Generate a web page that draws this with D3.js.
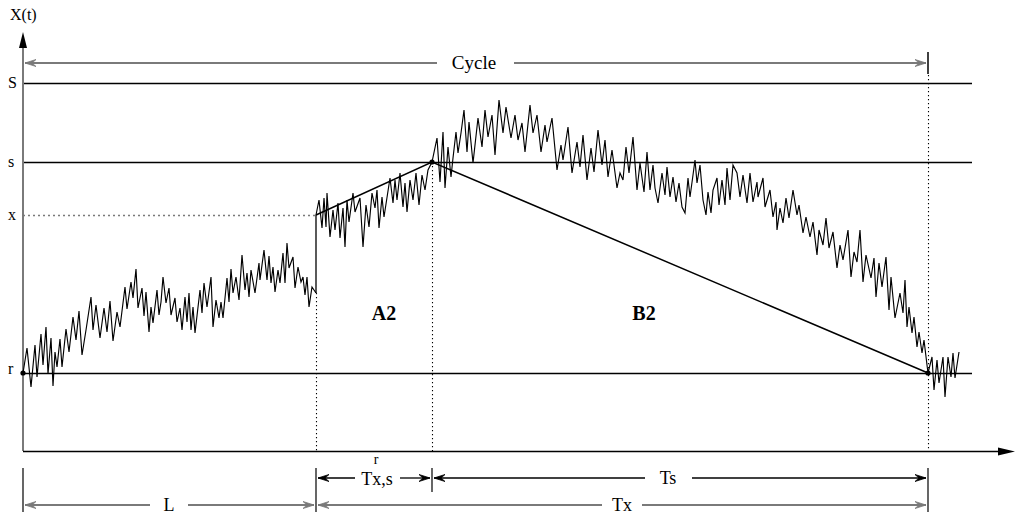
<!DOCTYPE html>
<html>
<head>
<meta charset="utf-8">
<script src="https://cdn.jsdelivr.net/npm/d3@7"></script>
<style>
  body { margin: 0; background: #fff; }
  svg text { font-family: "Liberation Serif", "Times New Roman", serif; fill: #000; }
</style>
</head>
<body>
<svg id="chart"></svg>
<script>
const width = 1022;
const height = 514;

// levels on the X(t) axis
const levelNames = ["S", "s", "x", "r"];
const levelValues = [368, 289, 236, 78];

// times on the t axis
const tL = 293;      // end of L
const tS = 409;      // hitting time of s
const tCycle = 905;  // end of the cycle
const tEnd = 949;    // right end of the level lines

// sample path, [t, X(t)]
const pathBeforeJump = [
  [0,78],[4,103],[8,64],[12,106],[14,74],[18,117],[20,86],[23,124],[25,77],[28,113],
  [30,65],[32,99],[34,84],[37,112],[39,84],[43,122],[46,99],[50,134],[53,111],[56,140],
  [59,96],[63,121],[68,154],[70,121],[73,146],[77,113],[81,143],[84,119],[87,150],[90,110],
  [94,139],[97,124],[102,164],[104,142],[108,169],[110,153],[113,182],[115,143],[119,163],[121,135],
  [123,159],[126,119],[128,144],[130,128],[134,161],[136,136],[138,149],[140,174],[143,148],[146,163],
  [148,136],[152,153],[154,129],[157,143],[159,121],[162,154],[164,129],[166,158],[168,121],[170,144],
  [172,118],[177,161],[179,138],[181,168],[184,144],[188,174],[190,124],[193,151],[196,133],[198,149],
  [200,133],[204,173],[206,149],[208,182],[210,158],[213,174],[216,151],[219,196],[222,161],[224,178],
  [226,154],[228,181],[232,158],[236,188],[237,171],[241,201],[244,171],[246,195],[248,168],[250,184],
  [252,159],[255,181],[257,168],[260,198],[262,168],[264,208],[266,183],[270,194],[272,163],[275,184],
  [278,169],[280,174],[282,156],[284,174],[286,144],[289,164],[293,158]
];
const pathToS = [
  [293,236],[296,251],[299,223],[301,253],[303,224],[304,258],[307,214],[310,241],[312,221],[315,248],
  [317,213],[320,243],[322,204],[324,251],[326,229],[330,258],[332,239],[337,253],[340,204],[343,246],
  [346,224],[349,258],[352,243],[354,261],[356,223],[359,254],[361,234],[367,273],[370,248],[372,271],
  [374,251],[377,278],[380,244],[382,268],[384,239],[387,271],[390,251],[393,278],[396,246],[399,276],
  [402,261],[405,281],[409,289]
];
const pathToR = [
  [414,313],[417,269],[420,319],[422,263],[425,304],[428,274],[430,293],[433,319],[435,298],[438,318],
  [441,341],[444,299],[446,329],[450,288],[455,333],[459,304],[462,341],[465,314],[469,336],[472,296],
  [476,351],[480,318],[483,344],[488,313],[492,336],[495,311],[499,328],[502,299],[507,346],[510,318],
  [514,336],[518,299],[522,326],[524,309],[529,333],[534,281],[538,306],[540,291],[545,324],[549,278],
  [554,309],[557,284],[560,316],[564,271],[568,303],[571,279],[575,321],[579,286],[582,311],[585,274],
  [589,301],[591,286],[594,263],[597,278],[600,271],[603,304],[606,278],[610,314],[614,261],[617,288],
  [621,259],[624,299],[627,261],[630,286],[632,263],[635,248],[639,278],[642,256],[644,284],[647,254],
  [650,274],[653,249],[656,268],[659,244],[662,238],[665,273],[667,254],[670,276],[672,291],[674,268],
  [677,286],[680,251],[683,236],[685,259],[688,238],[690,261],[694,273],[696,246],[699,271],[702,246],
  [704,283],[707,251],[710,286],[714,278],[717,254],[720,276],[724,248],[727,278],[730,249],[734,269],
  [735,254],[740,273],[742,244],[747,261],[750,234],[753,249],[754,221],[757,243],[760,228],[763,253],
  [766,233],[770,261],[774,236],[776,246],[780,218],[783,234],[787,214],[790,229],[794,196],[796,221],
  [800,206],[803,233],[806,203],[810,219],[814,183],[817,206],[820,191],[825,221],[828,174],[831,199],
  [834,189],[837,221],[840,169],[843,196],[848,173],[851,193],[853,154],[856,188],[859,164],[863,194],
  [866,141],[868,174],[872,133],[877,158],[880,138],[882,171],[884,124],[886,144],[889,118],[891,134],
  [894,104],[896,119],[899,98],[901,111],[904,86],[905,78]
];
const pathTail = [
  [909,94],[911,61],[914,91],[916,68],[920,94],[922,54],[925,94],[928,74],[930,98],[932,73],[936,99]
];

const svg = d3.select("#chart")
  .attr("width", width)
  .attr("height", height);

const x = d3.scaleLinear().domain([0, 992]).range([23, 1015]);
const y = d3.scaleLinear().domain([0, 419]).range([451, 32]);

const level = name => levelValues[levelNames.indexOf(name)];
const gray = "#7a7a7a";

// arrow head pointing to (px, py), dir = +1 right, -1 left
function head(px, py, dir, color) {
  svg.append("path")
    .attr("d", `M${px},${py} L${px - dir * 11},${py - 3.5} L${px - dir * 7},${py} L${px - dir * 11},${py + 3.5} Z`)
    .attr("fill", color)
    .attr("stroke", color)
    .attr("stroke-width", 0.8);
}

function hline(x1, x2, py, color, w) {
  svg.append("line")
    .attr("x1", x1).attr("x2", x2).attr("y1", py).attr("y2", py)
    .attr("stroke", color).attr("stroke-width", w);
}

function vline(px, y1, y2, color, w, dash) {
  svg.append("line")
    .attr("x1", px).attr("x2", px).attr("y1", y1).attr("y2", y2)
    .attr("stroke", color).attr("stroke-width", w)
    .attr("stroke-dasharray", dash || null);
}

// dimension arrow with a gap for its label
function dimension(t1, t2, py, gap1, gap2, color, w) {
  const a = x(t1) + 2, b = x(t2) - 2;
  hline(a, gap1, py, color, w);
  hline(gap2, b, py, color, w);
  head(a, py, -1, color);
  head(b, py, 1, color);
}

// level lines
["S", "s", "r"].forEach(n => hline(x(0), x(tEnd), y(level(n)) + 0.5, "#000", 1.3));
svg.append("line")
  .attr("x1", x(0)).attr("x2", x(tL)).attr("y1", y(level("x")) + 0.5).attr("y2", y(level("x")) + 0.5)
  .attr("stroke", gray).attr("stroke-width", 1.4).attr("stroke-dasharray", "2,3");

// dotted verticals
vline(x(tL) + 0.5, y(158), y(0), "#000", 1.1, "1.2,2.8");
vline(x(tS) + 0.5, y(level("s")), y(0), "#000", 1.1, "1.2,2.8");
vline(x(tCycle) + 0.5, y(level("S")) - 8, y(0), "#000", 1.1, "1.2,2.8");

// axes
vline(x(0), y(0), y(410), gray, 2);
svg.append("path")
  .attr("d", `M${x(0)},${y(419)} L${x(0) - 4},${y(403)} L${x(0) + 4},${y(403)} Z`)
  .attr("fill", "#000");
hline(x(0), x(975), y(0) + 0.5, "#000", 1.5);
svg.append("path")
  .attr("d", `M${x(992)},${y(0) + 0.5} L${x(975)},${y(0) - 3.5} L${x(975)},${y(0) + 4.5} Z`)
  .attr("fill", "#000");

// sample path
const line = d3.line().x(d => x(d[0])).y(d => y(d[1]));
svg.append("path")
  .datum(pathBeforeJump)
  .attr("d", line)
  .attr("fill", "none").attr("stroke", "#000").attr("stroke-width", 1.15);
svg.append("path")
  .datum([pathBeforeJump[pathBeforeJump.length - 1], pathToS[0]])
  .attr("d", line)
  .attr("fill", "none").attr("stroke", "#000").attr("stroke-width", 1.3);
svg.append("path")
  .datum(pathToS.concat(pathToR, pathTail))
  .attr("d", line)
  .attr("fill", "none").attr("stroke", "#000").attr("stroke-width", 1.15);

// chords
svg.append("path")
  .datum([[tL, level("x")], [tS, level("s")], [tCycle, level("r")]])
  .attr("d", line)
  .attr("fill", "none").attr("stroke", "#000").attr("stroke-width", 1.5);

// dots
[[0, level("r")], [tS, level("s")], [tCycle, level("r")]].forEach(d => {
  svg.append("circle").attr("cx", x(d[0])).attr("cy", y(d[1])).attr("r", 2.6).attr("fill", "#000");
});

// level labels
svg.selectAll(".lvl")
  .data(levelNames)
  .enter()
  .append("text")
  .attr("class", "lvl")
  .attr("x", 8)
  .attr("y", (n, i) => y(levelValues[i]) + (n === "r" ? 1 : 5))
  .attr("font-size", 16)
  .text(n => n);

svg.append("text").attr("x", 10).attr("y", 20).attr("font-size", 16).text("X(t)");

// cycle arrow
const cy = 63;
dimension(0, tCycle, cy, 437, 514, gray, 2);
vline(x(tCycle), cy - 11, cy + 11, "#000", 1.5);
svg.append("text").attr("x", 474).attr("y", cy + 6).attr("font-size", 19)
  .attr("text-anchor", "middle").text("Cycle");

// areas
svg.append("text").attr("x", 384).attr("y", 320).attr("font-size", 20)
  .attr("font-weight", "bold").attr("text-anchor", "middle").text("A2");
svg.append("text").attr("x", 644).attr("y", 320).attr("font-size", 20)
  .attr("font-weight", "bold").attr("text-anchor", "middle").text("B2");

// bottom dimensions
const row1 = 478, row2 = 505;
vline(x(0), 468, 512, "#000", 1.2);
vline(x(tL), 468, 512, "#000", 1.2);
vline(x(tS), 468, 492, "#000", 1.2);
vline(x(tCycle), 468, 512, "#000", 1.2);

dimension(tL, tS, row1, 355, 400, "#000", 1.3);
dimension(tS, tCycle, row1, 645, 692, "#000", 1.3);
dimension(0, tL, row2, 150, 188, gray, 2);
dimension(tL, tCycle, row2, 602, 642, gray, 2);

svg.append("text").attr("x", 377).attr("y", row1 + 7).attr("font-size", 18)
  .attr("text-anchor", "middle").text("Tx,s");
svg.append("text").attr("x", 376).attr("y", row1 - 14).attr("font-size", 14)
  .attr("text-anchor", "middle").text("r");
svg.append("text").attr("x", 668).attr("y", row1 + 6).attr("font-size", 18)
  .attr("text-anchor", "middle").text("Ts");
svg.append("text").attr("x", 169).attr("y", row2 + 6).attr("font-size", 18)
  .attr("text-anchor", "middle").text("L");
svg.append("text").attr("x", 622).attr("y", row2 + 6).attr("font-size", 18)
  .attr("text-anchor", "middle").text("Tx");
</script>
</body>
</html>
